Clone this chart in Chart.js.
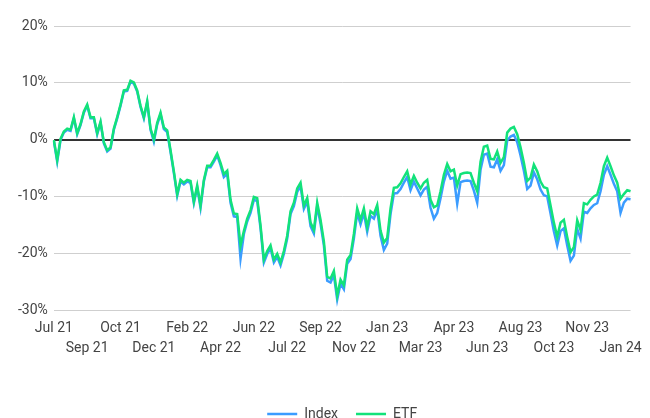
<!DOCTYPE html>
<html>
<head>
<meta charset="utf-8">
<script src="https://cdn.jsdelivr.net/npm/chart.js@4"></script>
<style>
  html, body { margin: 0; padding: 0; background: #fff; }
  #wrap { width: 650px; height: 418px; }
</style>
</head>
<body>
<div id="wrap"><canvas id="chart"></canvas></div>
<script>
// ===============================
// Data (percent change)
// ===============================
const tickLabels = [
  "Jul 21", "Sep 21", "Oct 21", "Dec 21", "Feb 22", "Apr 22",
  "Jun 22", "Jul 22", "Sep 22", "Nov 22", "Jan 23", "Mar 23",
  "Apr 23", "Jun 23", "Aug 23", "Oct 23", "Nov 23", "Jan 24"
];
const pointsPerTick = 10;

const etfValues = [
  0, -3.5, 0.2, 1.5, 2.0, 1.8, 4.0, 1.2, 2.8, 5.0,
  6.2, 4.0, 4.0, 1.2, 3.2, -0.4, -1.8, -1.3, 2.0, 4.0,
  6.2, 8.7, 8.8, 10.4, 10.1, 8.7, 6.0, 4.0, 6.8, 2.0,
  0.1, 3.0, 4.8, 2.2, 1.7, -1.8, -5.5, -9.5, -7.0, -7.5,
  -7.0, -7.2, -10.8, -8.0, -11.5, -7.0, -4.5, -4.5, -3.5, -2.4,
  -4.0, -6.0, -5.4, -10.5, -12.9, -13.0, -18.5, -16.0, -13.8, -12.3,
  -10.0, -10.2, -15.0, -21.0, -19.5, -18.5, -21.0, -20.0, -21.5, -19.5,
  -16.8, -12.5, -11.0, -8.5, -7.5, -11.5, -10.2, -14.5, -15.8, -11.0,
  -14.0, -17.8, -24.0, -24.3, -23.0, -27.3, -24.5, -25.5, -21.0, -20.2,
  -16.5, -12.0, -14.0, -12.0, -15.3, -12.5, -13.0, -11.4, -15.9, -18.0,
  -17.2, -12.0, -8.4, -8.3, -7.6, -6.5, -5.5, -7.8, -6.3, -7.5,
  -8.5, -7.5, -7.0, -10.5, -11.8, -11.5, -9.0, -6.1, -4.2, -5.5,
  -5.2, -8.0, -6.0, -5.8, -5.7, -5.8, -7.5, -9.0, -3.8, -1.2,
  -1.0, -3.3, -3.4, -2.0, -4.0, -3.0, 1.3, 2.0, 2.3, 1.0,
  -1.3, -4.0, -7.2, -6.6, -4.3, -5.5, -7.3, -8.3, -8.5, -11.5,
  -14.5, -17.0, -14.5, -14.0, -17.0, -19.7, -18.8, -14.1, -15.8, -11.1,
  -11.3, -10.5, -9.9, -9.6, -7.5, -4.6, -3.1, -4.6, -6.2, -7.5,
  -10.3, -9.5, -8.8, -9.0
];

const indexValues = [
  -0.2, -3.8, 0, 1.3, 1.8, 1.6, 3.8, 1.0, 2.6, 4.8,
  6.0, 3.8, 3.8, 1.0, 3.0, -0.6, -2.0, -1.5, 1.8, 3.8,
  6.0, 8.5, 8.6, 10.2, 9.9, 8.5, 5.8, 3.8, 6.6, 1.8,
  -0.3, 2.7, 4.5, 1.9, 1.4, -2.1, -5.8, -9.8, -7.3, -7.8,
  -7.3, -7.5, -11.1, -8.3, -11.9, -7.3, -4.8, -4.8, -3.8, -2.7,
  -4.4, -6.5, -5.9, -11.0, -13.4, -13.5, -20.8, -16.5, -14.3, -12.8,
  -10.5, -10.7, -15.5, -21.5, -20.0, -19.0, -21.5, -20.5, -22.0, -20.0,
  -17.3, -13.0, -11.6, -9.1, -8.1, -12.1, -10.8, -15.1, -16.4, -11.6,
  -14.7, -18.5, -24.7, -25.0, -23.7, -28.0, -25.2, -26.2, -21.7, -20.9,
  -17.3, -12.8, -14.8, -12.8, -16.1, -13.3, -13.8, -12.2, -16.8, -19.3,
  -18.2, -13.0, -9.4, -9.3, -8.6, -7.5, -6.5, -8.8, -7.3, -8.5,
  -9.7, -8.7, -8.2, -11.9, -13.8, -12.8, -10.2, -7.3, -5.4, -6.8,
  -6.6, -11.2, -7.4, -7.2, -7.1, -7.2, -8.9, -11.0, -5.2, -2.6,
  -2.4, -4.7, -4.8, -3.4, -5.4, -4.4, -0.1, 0.6, 0.9, -0.4,
  -2.7, -5.4, -8.6, -8.0, -5.7, -6.9, -8.7, -9.7, -9.9, -12.9,
  -16.0, -18.5, -16.0, -15.5, -18.5, -21.2, -20.3, -15.6, -17.3, -12.6,
  -12.8, -12.0, -11.4, -11.1, -9.0, -6.1, -4.6, -6.1, -7.7, -9.0,
  -12.8, -11.0, -10.3, -10.4
];

// category labels: a tick label every pointsPerTick points
const labels = etfValues.map((_, i) =>
  i % pointsPerTick === 0 && tickLabels[i / pointsPerTick] ? tickLabels[i / pointsPerTick] : ""
);

const textColor = "#444";
const fontFamily = "Roboto, 'Noto Sans', sans-serif";

// ===============================
// Chart
// ===============================
const ctx = document.getElementById("chart");
new Chart(ctx, {
  type: "line",
  data: {
    labels: labels,
    datasets: [
      {
        label: "ETF",
        data: etfValues,
        borderColor: "#12e27a",
        backgroundColor: "#12e27a",
        borderWidth: 2.5,
        pointRadius: 0,
        tension: 0
      },
      {
        label: "Index",
        data: indexValues,
        borderColor: "#3b9cff",
        backgroundColor: "#3b9cff",
        borderWidth: 2.5,
        pointRadius: 0,
        tension: 0
      }
    ]
  },
  options: {
    responsive: true,
    maintainAspectRatio: false,
    animation: false,
    layout: {
      padding: { left: 12, right: 18, top: 26, bottom: -13 }
    },
    plugins: {
      tooltip: { enabled: false },
      legend: {
        position: "bottom",
        fullSize: false,
        reverse: true,
        labels: {
          color: textColor,
          font: { family: fontFamily, size: 14 },
          usePointStyle: true,
          pointStyle: "line",
          pointStyleWidth: 30,
          boxHeight: 3,
          padding: 18
        }
      }
    },
    scales: {
      x: {
        grid: { display: false, drawTicks: false },
        border: { display: false },
        ticks: {
          autoSkip: false,
          maxRotation: 0,
          padding: 8,
          color: textColor,
          font: { family: fontFamily, size: 14, lineHeight: 1.43 },
          callback: function (value, index) {
            const lab = this.getLabelForValue(value);
            if (!lab) return null;
            const k = index / pointsPerTick;
            return k % 2 === 1 ? ["", lab] : lab;
          }
        },
        afterFit: scale => { scale.height += 22; }
      },
      y: {
        min: -30,
        max: 20,
        border: { display: false },
        grid: {
          drawTicks: false,
          color: c => (c.tick && c.tick.value === 0 ? "#333" : "#cfcfcf"),
          lineWidth: c => (c.tick && c.tick.value === 0 ? 2 : 1)
        },
        ticks: {
          stepSize: 10,
          padding: 6,
          color: textColor,
          font: { family: fontFamily, size: 14 },
          callback: v => v + "%"
        }
      }
    }
  }
});
</script>
</body>
</html>
